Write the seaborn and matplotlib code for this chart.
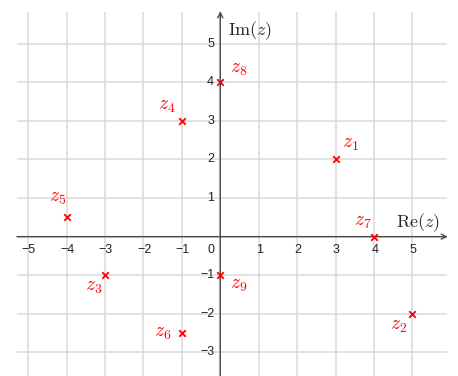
import matplotlib
matplotlib.use("Agg")
import matplotlib.pyplot as plt
import numpy as np
import pandas as pd
import seaborn as sns

# points in the complex plane
re_vals = [3, 5, -3, -1, -4, -1, 4, 0, 0]
im_vals = [2, -2, -1, 3, 0.5, -2.5, 0, 4, -1]
names = [r"$z_{%d}$" % (i + 1) for i in range(9)]
x_ticks = [-5, -4, -3, -2, -1, 1, 2, 3, 4, 5]
y_ticks = [-3, -2, -1, 1, 2, 3, 4, 5]

# label offsets in pixels (dx, dy)
offsets = [(15, 15), (-14, -13), (-11, -12), (-15, 14), (-9, 19),
           (-19, 0), (-11, 14), (18, 13), (18, -10)]

sns.set_style("white")
plt.rcParams["mathtext.fontset"] = "cm"
plt.rcParams["font.family"] = ["Liberation Sans", "DejaVu Sans"]

fig = plt.figure(figsize=(4.58, 3.76), dpi=100)
ax = fig.add_axes([17 / 458, 0, 430 / 458, 364 / 376])
ax.set_xlim(-5.29, 5.90)
ax.set_ylim(-3.61, 5.82)

# grid at integers
for v in range(-5, 6):
    ax.axvline(v, color="#dadada", lw=1.1, zorder=0)
for v in range(-3, 6):
    ax.axhline(v, color="#dadada", lw=1.1, zorder=0)

for sp in ax.spines.values():
    sp.set_visible(False)
ax.set_xticks([])
ax.set_yticks([])

# axes with arrows
ax.annotate("", xy=(5.92, 0), xytext=(-5.29, 0), annotation_clip=False,
            arrowprops=dict(arrowstyle="->", color="#4a4a4a", lw=1,
                            shrinkA=0, shrinkB=0, mutation_scale=9))
ax.annotate("", xy=(0, 5.84), xytext=(0, -3.61), annotation_clip=False,
            arrowprops=dict(arrowstyle="->", color="#4a4a4a", lw=1,
                            shrinkA=0, shrinkB=0, mutation_scale=9))

# tick labels
for t in x_ticks:
    ax.text(t + 0.02, -0.18, "\u2212%d" % -t if t < 0 else str(t), ha="center", va="top",
            fontsize=9, color="#222222")
for t in y_ticks:
    ax.text(-0.16, t, "\u2212%d" % -t if t < 0 else str(t), ha="right", va="center",
            fontsize=9, color="#222222")
ax.text(-0.16, -0.18, "0", ha="right", va="top", fontsize=9, color="#222222")

ax.text(5.15, 0.36, r"$\mathrm{Re}(z)$", ha="center", va="center", fontsize=13)
ax.text(0.77, 5.35, r"$\mathrm{Im}(z)$", ha="center", va="center", fontsize=13)

df = pd.DataFrame({"re": re_vals, "im": im_vals})
sns.scatterplot(data=df, x="re", y="im", marker="x", color="#ff0000", s=22,
                linewidth=1.3, ax=ax, zorder=5, clip_on=False)
ax.set_xlabel("")
ax.set_ylabel("")

for x, y, name, (dx, dy) in zip(re_vals, im_vals, names, offsets):
    ax.annotate(name, (x, y), xytext=(dx, dy), textcoords="offset pixels",
                ha="center", va="center", fontsize=14, color="#ff0000")

fig.savefig("out.png", dpi=100)
